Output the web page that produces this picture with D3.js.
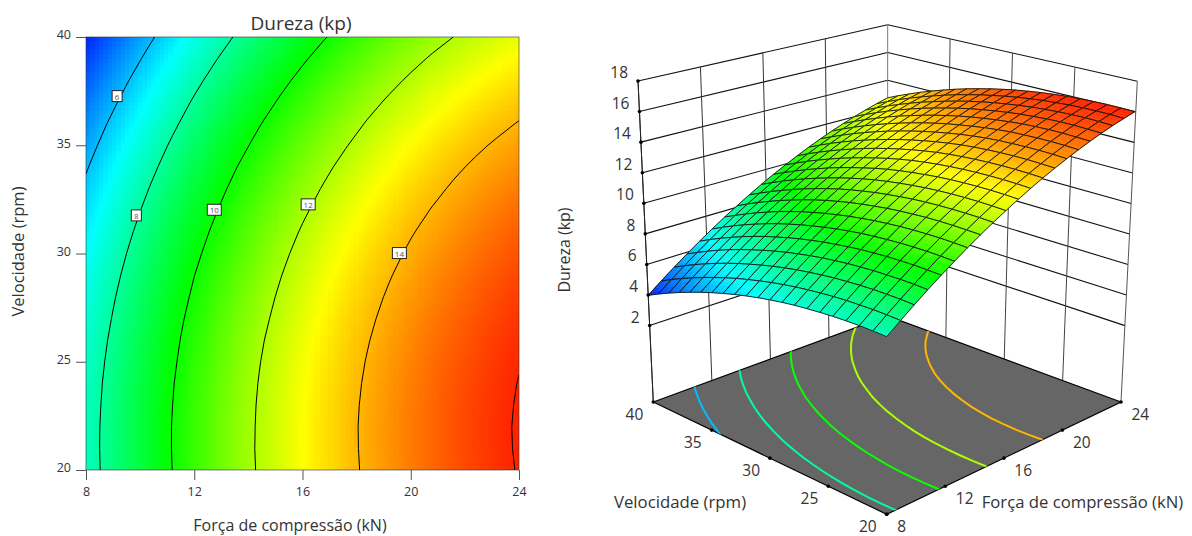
<!DOCTYPE html>
<html>
<head>
<meta charset="utf-8">
<title>Dureza (kp)</title>
<script src="https://cdn.jsdelivr.net/npm/d3@7/dist/d3.min.js"></script>
<style>
  body { margin: 0; background: #fff; overflow: hidden; }
  svg { display: block; }
  text { font-family: "Open Sans", "Noto Sans", sans-serif; fill: #333; }
</style>
</head>
<body>
<div id="chart"></div>
<script>
// Data
// ================================
const forceValues = [8, 8.8, 9.6, 10.4, 11.2, 12, 12.8, 13.6, 14.4, 15.2, 16, 16.8, 17.6, 18.4, 19.2, 20, 20.8, 21.6, 22.4, 23.2, 24];
const velocityValues = [20, 21, 22, 23, 24, 25, 26, 27, 28, 29, 30, 31, 32, 33, 34, 35, 36, 37, 38, 39, 40];

// one row per velocity, one column per force
const hardness = [
  [7.58, 8.22, 8.84, 9.44, 10.01, 10.56, 11.09, 11.60, 12.08, 12.53, 12.97, 13.38, 13.77, 14.13, 14.47, 14.79, 15.09, 15.36, 15.61, 15.83, 16.04],
  [7.59, 8.24, 8.86, 9.46, 10.03, 10.58, 11.11, 11.61, 12.10, 12.55, 12.99, 13.40, 13.79, 14.15, 14.50, 14.82, 15.11, 15.38, 15.63, 15.86, 16.06],
  [7.59, 8.23, 8.85, 9.45, 10.03, 10.58, 11.11, 11.61, 12.09, 12.55, 12.99, 13.40, 13.79, 14.16, 14.50, 14.82, 15.12, 15.39, 15.64, 15.86, 16.07],
  [7.56, 8.20, 8.83, 9.42, 10.00, 10.55, 11.08, 11.59, 12.07, 12.53, 12.97, 13.38, 13.77, 14.14, 14.48, 14.80, 15.10, 15.37, 15.62, 15.85, 16.05],
  [7.51, 8.16, 8.78, 9.38, 9.96, 10.51, 11.04, 11.55, 12.03, 12.49, 12.93, 13.34, 13.73, 14.10, 14.44, 14.76, 15.06, 15.34, 15.59, 15.82, 16.02],
  [7.44, 8.09, 8.71, 9.31, 9.89, 10.44, 10.98, 11.48, 11.97, 12.43, 12.87, 13.28, 13.67, 14.04, 14.39, 14.71, 15.01, 15.28, 15.53, 15.76, 15.97],
  [7.35, 8.00, 8.63, 9.23, 9.81, 10.36, 10.89, 11.40, 11.89, 12.35, 12.79, 13.20, 13.59, 13.96, 14.31, 14.63, 14.93, 15.20, 15.46, 15.69, 15.89],
  [7.25, 7.89, 8.52, 9.12, 9.70, 10.26, 10.79, 11.30, 11.78, 12.24, 12.68, 13.10, 13.49, 13.86, 14.21, 14.53, 14.83, 15.11, 15.36, 15.59, 15.80],
  [7.12, 7.77, 8.39, 9.00, 9.57, 10.13, 10.66, 11.17, 11.66, 12.12, 12.56, 12.98, 13.37, 13.74, 14.09, 14.41, 14.71, 14.99, 15.24, 15.48, 15.68],
  [6.97, 7.62, 8.25, 8.85, 9.43, 9.99, 10.52, 11.03, 11.52, 11.98, 12.42, 12.84, 13.23, 13.60, 13.95, 14.27, 14.58, 14.85, 15.11, 15.34, 15.55],
  [6.80, 7.45, 8.08, 8.68, 9.26, 9.82, 10.35, 10.87, 11.35, 11.82, 12.26, 12.68, 13.07, 13.44, 13.79, 14.12, 14.42, 14.70, 14.95, 15.18, 15.39],
  [6.61, 7.26, 7.89, 8.50, 9.08, 9.63, 10.17, 10.68, 11.17, 11.63, 12.08, 12.50, 12.89, 13.26, 13.61, 13.94, 14.24, 14.52, 14.78, 15.01, 15.22],
  [6.40, 7.05, 7.68, 8.29, 8.87, 9.43, 9.96, 10.48, 10.97, 11.43, 11.87, 12.29, 12.69, 13.06, 13.41, 13.74, 14.04, 14.32, 14.58, 14.81, 15.02],
  [6.17, 6.83, 7.45, 8.06, 8.64, 9.20, 9.74, 10.25, 10.74, 11.21, 11.65, 12.07, 12.47, 12.84, 13.19, 13.52, 13.82, 14.10, 14.36, 14.60, 14.81],
  [5.92, 6.58, 7.21, 7.81, 8.40, 8.96, 9.49, 10.01, 10.50, 10.96, 11.41, 11.83, 12.23, 12.60, 12.95, 13.28, 13.58, 13.87, 14.12, 14.36, 14.57],
  [5.65, 6.31, 6.94, 7.55, 8.13, 8.69, 9.23, 9.74, 10.23, 10.70, 11.15, 11.57, 11.96, 12.34, 12.69, 13.02, 13.33, 13.61, 13.87, 14.10, 14.31],
  [5.36, 6.02, 6.65, 7.26, 7.84, 8.40, 8.94, 9.46, 9.95, 10.42, 10.86, 11.28, 11.68, 12.06, 12.41, 12.74, 13.05, 13.33, 13.59, 13.82, 14.04],
  [5.05, 5.71, 6.34, 6.95, 7.53, 8.10, 8.64, 9.15, 9.64, 10.11, 10.56, 10.98, 11.38, 11.76, 12.11, 12.44, 12.75, 13.03, 13.29, 13.53, 13.74],
  [4.72, 5.38, 6.01, 6.62, 7.21, 7.77, 8.31, 8.83, 9.32, 9.79, 10.23, 10.66, 11.06, 11.44, 11.79, 12.12, 12.43, 12.71, 12.97, 13.21, 13.42],
  [4.37, 5.03, 5.66, 6.27, 6.86, 7.42, 7.96, 8.48, 8.97, 9.44, 9.89, 10.31, 10.72, 11.09, 11.45, 11.78, 12.09, 12.37, 12.63, 12.87, 13.09],
  [4.00, 4.66, 5.29, 5.90, 6.49, 7.05, 7.60, 8.11, 8.61, 9.08, 9.53, 9.95, 10.35, 10.73, 11.09, 11.42, 11.73, 12.01, 12.27, 12.51, 12.73]
];

const contourLevels = [6, 8, 10, 12, 14, 16];
const floorLevels = [6, 8, 10, 12, 14];
const labelLevels = [6, 8, 10, 12, 14];
const labelForces = [9.15, 9.86, 12.74, 16.21, 19.58];
const labelVelocities = [37.27, 31.76, 32.02, 32.27, 30.02];

const forceTicks = [8, 12, 16, 20, 24];
const velocityTicks = [20, 25, 30, 35, 40];
const hardnessTicks = [2, 4, 6, 8, 10, 12, 14, 16, 18];

const colorStops = [3.6, 6.8, 9.9, 13, 16.5];
const colorRange = ["#0000ff", "#00ffff", "#00ff00", "#ffff00", "#ff0000"];

// Set up chart
// ================================
const svg = d3.select("#chart")
  .append("svg")
  .attr("width", 1192)
  .attr("height", 536);

const color = d3.scaleLinear().domain(colorStops).range(colorRange).clamp(true);

const plot = { left: 86, right: 519, top: 37, bottom: 470 };

const xScale = d3.scaleLinear().domain([8, 24]).range([plot.left, plot.right]);
const yScale = d3.scaleLinear().domain([20, 40]).range([plot.bottom, plot.top]);

// grid index (force or velocity column) to data value
const colScale = d3.scaleLinear().domain([0, forceValues.length - 1]).range([8, 24]);
const rowScale = d3.scaleLinear().domain([0, velocityValues.length - 1]).range([20, 40]);

// shade between the table's cells, only used for painting
function hardnessAt(f, v) {
  const cx = Math.min(colScale.invert(f), forceValues.length - 1.0001);
  const cy = Math.min(rowScale.invert(v), velocityValues.length - 1.0001);
  const i = Math.floor(cx), j = Math.floor(cy);
  const a = cx - i, b = cy - j;
  return (1 - a) * (1 - b) * hardness[j][i] + a * (1 - b) * hardness[j][i + 1]
    + (1 - a) * b * hardness[j + 1][i] + a * b * hardness[j + 1][i + 1];
}

const contourLines = d3.contours()
  .size([forceValues.length, velocityValues.length]);
const flatHardness = hardness.flat();

// Contour plot
// ================================
const left = svg.append("g");

left.append("clipPath")
  .attr("id", "plotClip")
  .append("rect")
  .attr("x", plot.left)
  .attr("y", plot.top)
  .attr("width", plot.right - plot.left)
  .attr("height", plot.bottom - plot.top);

const shadeCells = d3.range(100).flatMap(a => d3.range(100).map(b => ({ a: a, b: b })));
const shadeF = d3.scaleLinear().domain([0, 100]).range([8, 24]);
const shadeV = d3.scaleLinear().domain([0, 100]).range([20, 40]);

left.append("g")
  .attr("shape-rendering", "crispEdges")
  .selectAll("rect")
  .data(shadeCells)
  .enter()
  .append("rect")
  .attr("x", d => Math.round(xScale(shadeF(d.a))))
  .attr("y", d => Math.round(yScale(shadeV(d.b + 1))))
  .attr("width", d => Math.round(xScale(shadeF(d.a + 1))) - Math.round(xScale(shadeF(d.a))))
  .attr("height", d => Math.round(yScale(shadeV(d.b))) - Math.round(yScale(shadeV(d.b + 1))))
  .attr("fill", d => color(hardnessAt(shadeF(d.a + 0.5), shadeV(d.b + 0.5))));

// d3.contours puts table entry i at coordinate i + 0.5
const leftProjection = d3.geoTransform({
  point: function(x, y) {
    this.stream.point(xScale(colScale(x - 0.5)), yScale(rowScale(y - 0.5)));
  }
});

left.append("g")
  .attr("clip-path", "url(#plotClip)")
  .selectAll("path")
  .data(contourLines.thresholds(contourLevels)(flatHardness))
  .enter()
  .append("path")
  .attr("d", d3.geoPath(leftProjection))
  .attr("fill", "none")
  .attr("stroke", "#000")
  .attr("stroke-width", 1);

left.append("rect")
  .attr("x", plot.left)
  .attr("y", plot.top)
  .attr("width", plot.right - plot.left)
  .attr("height", plot.bottom - plot.top)
  .attr("fill", "none")
  .attr("stroke", "#333")
  .attr("stroke-opacity", 0.6);

// contour labels
const labelGroup = left.selectAll(".contourLabel")
  .data(labelLevels)
  .enter()
  .append("g")
  .attr("class", "contourLabel")
  .attr("transform", (d, i) => `translate(${xScale(labelForces[i])}, ${yScale(labelVelocities[i])})`);

labelGroup.append("rect")
  .attr("x", d => d < 10 ? -5 : -7)
  .attr("y", -5.5)
  .attr("width", d => d < 10 ? 10 : 14)
  .attr("height", 11)
  .attr("fill", "#fff")
  .attr("stroke", "#222")
  .attr("stroke-width", 1);

labelGroup.append("text")
  .attr("text-anchor", "middle")
  .attr("y", 3.5)
  .attr("font-size", "8px")
  .style("fill", "#555")
  .text(d => d);

// axes
const bottomAxis = d3.axisBottom(xScale).tickValues(forceTicks).tickSize(10).tickSizeOuter(0).tickPadding(7);
const leftAxis = d3.axisLeft(yScale).tickValues(velocityTicks).tickSize(10).tickSizeOuter(0).tickPadding(5);

const xAxisGroup = left.append("g")
  .attr("transform", `translate(0, ${plot.bottom})`)
  .call(bottomAxis);
const yAxisGroup = left.append("g")
  .attr("transform", `translate(${plot.left}, 0)`)
  .call(leftAxis);

[xAxisGroup, yAxisGroup].forEach(function(axis) {
  axis.select(".domain").remove();
  axis.selectAll("line").attr("stroke", "#555");
  axis.selectAll("text").attr("font-size", "12.5px").attr("font-family", null);
});
yAxisGroup.selectAll("text").attr("dy", "0.15em");

left.append("text")
  .attr("x", 301)
  .attr("y", 29.5)
  .attr("text-anchor", "middle")
  .attr("font-size", "19px")
  .text("Dureza (kp)");

left.append("text")
  .attr("x", 290)
  .attr("y", 531)
  .attr("text-anchor", "middle")
  .attr("font-size", "16px")
  .text("Força de compressão (kN)");

left.append("text")
  .attr("transform", "translate(23.5, 251.5) rotate(-90)")
  .attr("text-anchor", "middle")
  .attr("font-size", "16.5px")
  .text("Velocidade (rpm)");

// 3D surface
// ================================
const right = svg.append("g");

// corners of the box on screen
const floorFront = [886.7, 514.3], floorRight = [1121, 402], floorLeft = [653.3, 402], floorBack = [887.5, 316];
const topFront = [887, 161.7], topRight = [1137.3, 81.3], topLeft = [638, 81], topBack = [887.7, 24.7];

const uScale = d3.scaleLinear().domain([8, 24]).range([0, 1]);
const vScale = d3.scaleLinear().domain([20, 40]).range([0, 1]);
const wScale = d3.scaleLinear().domain([-3, 18]).range([0, 1]);

function blend(front, rightC, leftC, back, u, v, k) {
  return (1 - u) * (1 - v) * front[k] + u * (1 - v) * rightC[k] + (1 - u) * v * leftC[k] + u * v * back[k];
}

// the box and its ticks are evenly spaced along every edge
function boxPoint(f, v, z) {
  const u = uScale(f), t = vScale(v), w = wScale(z);
  return [0, 1].map(k => (1 - w) * blend(floorFront, floorRight, floorLeft, floorBack, u, t, k)
    + w * blend(topFront, topRight, topLeft, topBack, u, t, k));
}

// the surface and the floor contours follow the real perspective of the floor
const sx = floorFront[0] - floorRight[0] + floorBack[0] - floorLeft[0];
const sy = floorFront[1] - floorRight[1] + floorBack[1] - floorLeft[1];
const dx1 = floorRight[0] - floorBack[0], dx2 = floorLeft[0] - floorBack[0];
const dy1 = floorRight[1] - floorBack[1], dy2 = floorLeft[1] - floorBack[1];
const den = dx1 * dy2 - dx2 * dy1;
const gPersp = (sx * dy2 - dx2 * sy) / den;
const hPersp = (dx1 * sy - sx * dy1) / den;

const liftScale = d3.scaleLinear().domain([316, 402, 514.3]).range([13.87, 15.25, 16.79]);

function surfacePoint(f, v, z) {
  const u = uScale(f), t = vScale(v);
  const w = 1 + gPersp * u + hPersp * t;
  const px = ((floorRight[0] * (1 + gPersp) - floorFront[0]) * u + (floorLeft[0] * (1 + hPersp) - floorFront[0]) * t + floorFront[0]) / w;
  const py = ((floorRight[1] * (1 + gPersp) - floorFront[1]) * u + (floorLeft[1] * (1 + hPersp) - floorFront[1]) * t + floorFront[1]) / w;
  return [px + (px - 887.3) * 0.00312 * (z + 3), py - liftScale(py) * (z + 3)];
}

const floorZ = -3, topZ = 18;

function wallLine(a, b, stroke, width) {
  right.append("line")
    .attr("x1", a[0]).attr("y1", a[1])
    .attr("x2", b[0]).attr("y2", b[1])
    .attr("stroke", stroke)
    .attr("stroke-width", width);
}

// back walls
hardnessTicks.forEach(function(z) {
  wallLine(boxPoint(8, 40, z), boxPoint(24, 40, z), "#111", 1.1);
  wallLine(boxPoint(24, 40, z), boxPoint(24, 20, z), "#111", 1.1);
});
forceTicks.forEach(f => wallLine(boxPoint(f, 40, floorZ), boxPoint(f, 40, topZ), f === 24 ? "#777" : "#333", 1));
velocityTicks.filter(v => v < 40).forEach(v => wallLine(boxPoint(24, v, floorZ), boxPoint(24, v, topZ), v === 20 ? "#555" : "#444", 1));

// floor
const floorPoints = [floorLeft, floorFront, floorRight, floorBack];

right.append("clipPath")
  .attr("id", "floorClip")
  .append("polygon")
  .attr("points", floorPoints.join(" "));

right.append("polygon")
  .attr("points", floorPoints.join(" "))
  .attr("fill", "#666")
  .attr("stroke", "#000")
  .attr("stroke-width", 1.2);

const floorProjection = d3.geoTransform({
  point: function(x, y) {
    const p = surfacePoint(colScale(x - 0.5), rowScale(y - 0.5), floorZ);
    this.stream.point(p[0], p[1]);
  }
});

right.append("g")
  .attr("clip-path", "url(#floorClip)")
  .selectAll("path")
  .data(contourLines.thresholds(floorLevels)(flatHardness))
  .enter()
  .append("path")
  .attr("d", d3.geoPath(floorProjection))
  .attr("fill", "none")
  .attr("stroke", d => color(d.value))
  .attr("stroke-width", 2);

// surface, back cells first so the front ones cover them
const subSteps = d3.range(4);
const surfaceCells = d3.range(forceValues.length - 1).flatMap(i =>
  d3.range(velocityValues.length - 1).map(j => ({ i: i, j: j })))
  .sort((a, b) => (b.i + b.j) - (a.i + a.j));

const surfaceGroups = right.append("g")
  .selectAll("g")
  .data(surfaceCells)
  .enter()
  .append("g");

function cellCorner(d, a, b) {
  const f = forceValues[d.i] + (forceValues[d.i + 1] - forceValues[d.i]) * a / subSteps.length;
  const v = velocityValues[d.j] + (velocityValues[d.j + 1] - velocityValues[d.j]) * b / subSteps.length;
  return { f: f, v: v, z: hardnessAt(f, v) };
}

surfaceGroups.selectAll("polygon")
  .data(d => subSteps.flatMap(a => subSteps.map(b => {
    const corners = [cellCorner(d, a, b), cellCorner(d, a + 1, b), cellCorner(d, a + 1, b + 1), cellCorner(d, a, b + 1)];
    return {
      points: corners.map(c => surfacePoint(c.f, c.v, c.z)),
      z: d3.mean(corners, c => c.z)
    };
  })))
  .enter()
  .append("polygon")
  .attr("points", d => d.points.join(" "))
  .attr("fill", d => color(d.z))
  .attr("stroke", d => color(d.z))
  .attr("stroke-width", 0.5);

surfaceGroups.append("polygon")
  .attr("points", d => [[d.i, d.j], [d.i + 1, d.j], [d.i + 1, d.j + 1], [d.i, d.j + 1]]
    .map(p => surfacePoint(forceValues[p[0]], velocityValues[p[1]], hardness[p[1]][p[0]])).join(" "))
  .attr("fill", "none")
  .attr("stroke", "#111")
  .attr("stroke-width", 0.9);

// axis dots and labels
const zDots = hardnessTicks.map(z => boxPoint(8, 40, z));
const vDots = velocityTicks.map(v => boxPoint(8, v, floorZ));
const fDots = forceTicks.map(f => boxPoint(f, 20, floorZ));

wallLine(boxPoint(8, 40, floorZ), boxPoint(8, 40, topZ), "#222", 1);

right.selectAll(".dot")
  .data(zDots.concat(vDots, fDots))
  .enter()
  .append("circle")
  .attr("class", "dot")
  .attr("cx", d => d[0])
  .attr("cy", d => d[1])
  .attr("r", 1.8)
  .attr("fill", "#000");

right.selectAll(".zLabel")
  .data(hardnessTicks)
  .enter()
  .append("text")
  .attr("class", "zLabel")
  .attr("x", d => boxPoint(8, 40, d)[0] - 10)
  .attr("y", d => boxPoint(8, 40, d)[1] - 3)
  .attr("text-anchor", "end")
  .attr("font-size", "15.5px")
  .text(d => d);

right.selectAll(".vLabel")
  .data(velocityTicks)
  .enter()
  .append("text")
  .attr("class", "vLabel")
  .attr("x", d => boxPoint(8, d, floorZ)[0] - 10)
  .attr("y", d => boxPoint(8, d, floorZ)[1] + 18)
  .attr("text-anchor", "end")
  .attr("font-size", "15.5px")
  .text(d => d);

right.selectAll(".fLabel")
  .data(forceTicks)
  .enter()
  .append("text")
  .attr("class", "fLabel")
  .attr("x", d => boxPoint(d, 20, floorZ)[0] + 10.5)
  .attr("y", d => boxPoint(d, 20, floorZ)[1] + 18)
  .attr("font-size", "15.5px")
  .text(d => d);

right.append("text")
  .attr("x", 680)
  .attr("y", 508)
  .attr("text-anchor", "middle")
  .attr("font-size", "16.8px")
  .text("Velocidade (rpm)");

right.append("text")
  .attr("x", 1082.5)
  .attr("y", 508)
  .attr("text-anchor", "middle")
  .attr("font-size", "16.7px")
  .text("Força de compressão (kN)");

right.append("text")
  .attr("transform", "translate(570, 250) rotate(-90)")
  .attr("text-anchor", "middle")
  .attr("font-size", "16px")
  .text("Dureza (kp)");
</script>
</body>
</html>
